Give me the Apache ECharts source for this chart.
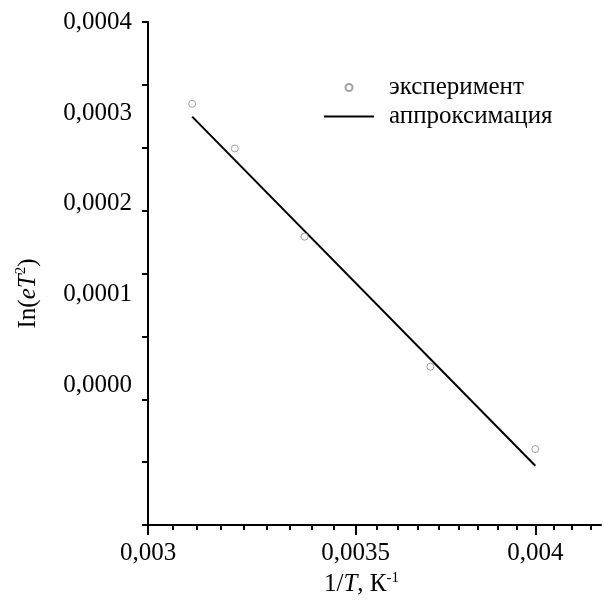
<!DOCTYPE html>
<html>
<head>
<meta charset="utf-8">
<script src="https://cdn.jsdelivr.net/npm/echarts@6/dist/echarts.min.js"></script>
<style>
html,body{margin:0;padding:0;background:#fff;}
#chart{width:604px;height:601px;}
</style>
</head>
<body>
<div id="chart"></div>
<script>
// экспериментальные точки [1/T, значение]
const expPoints = [
  [0.0031, 0.000310],
  [0.0032, 0.000261],
  [0.00337, 0.000164],
  [0.0037, 0.000021],
  [0.004, -0.0000695]
]
// аппроксимация (концы прямой)
const fitLine = [
  [0.0031, 0.000296],
  [0.004, -0.0000878]
]
const xMajorTicks = [0.003, 0.0035, 0.004]
const xMinorTicks = [
  0.003, 0.0030556, 0.0031111, 0.0031667, 0.0032222, 0.0032778, 0.0033333, 0.0033889, 0.0034444, 0.0035,
  0.0035556, 0.0036111, 0.0036667, 0.0037222, 0.0037778, 0.0038333, 0.0038889, 0.0039444, 0.004,
  0.0040556, 0.0041111, 0.0041667
]
const yLabelValues = [0, 0.0001, 0.0002, 0.0003, 0.0004]

const font = 'Liberation Serif'
const txt = { fontFamily: font, fontSize: 25, color: '#000' }

const chart = echarts.init(document.getElementById('chart'))
const option = {
  animation: false,
  backgroundColor: '#fff',
  grid: { left: 148, right: 3, top: 22, bottom: 76, containLabel: false, outerBoundsMode: 'none' },
  legend: {
    orient: 'vertical',
    left: 323,
    top: 75,
    padding: 0,
    itemWidth: 50,
    itemHeight: 7,
    itemGap: 4,
    textStyle: { ...txt, padding: [0, 0, 0, 10] },
    data: [
      'эксперимент',
      { name: 'аппроксимация', itemStyle: { color: 'rgba(0,0,0,0)', borderWidth: 0 } }
    ]
  },
  xAxis: [{
    type: 'log',
    position: 'bottom',
    min: 0.003,
    max: 0.0042,
    name: '{n|1/}{i|T}{n|, К}{s|-1}',
    nameLocation: 'middle',
    nameGap: 40,
    nameTextStyle: {
      ...txt,
      padding: [0, 26, 0, 0],
      rich: {
        n: { ...txt, lineHeight: 28 },
        i: { ...txt, fontStyle: 'italic', lineHeight: 28 },
        s: { fontFamily: font, fontSize: 15, color: '#000', verticalAlign: 'top', lineHeight: 28 }
      }
    },
    axisLine: { onZero: false, lineStyle: { color: '#000', width: 2 } },
    axisTick: { customValues: xMajorTicks, length: 10, lineStyle: { color: '#000', width: 2 } },
    axisLabel: {
      ...txt,
      margin: 16,
      customValues: xMajorTicks,
      formatter: v => String(v).replace('.', ',')
    },
    splitLine: { show: false }
  }, {
    type: 'log',
    position: 'bottom',
    min: 0.003,
    max: 0.0042,
    axisLine: { show: false, onZero: false },
    axisTick: { customValues: xMinorTicks, length: 5, lineStyle: { color: '#000', width: 2 } },
    axisLabel: { show: false },
    splitLine: { show: false }
  }],
  yAxis: [{
    type: 'value',
    position: 'left',
    min: -0.000153,
    max: 0.0004,
    name: '{n|In(}{i|eT}{s|2}{n|)}',
    nameLocation: 'middle',
    nameRotate: 90,
    nameGap: 106,
    nameTextStyle: {
      ...txt,
      padding: [0, 40, 0, 0],
      rich: {
        n: { ...txt, lineHeight: 28 },
        i: { ...txt, fontStyle: 'italic', lineHeight: 28 },
        s: { fontFamily: font, fontSize: 15, color: '#000', verticalAlign: 'top', lineHeight: 28 }
      }
    },
    axisLine: { show: true, onZero: false, lineStyle: { color: '#000', width: 2 } },
    axisTick: { show: false },
    axisLabel: {
      ...txt,
      margin: 16,
      customValues: yLabelValues,
      formatter: v => v.toFixed(4).replace('.', ',')
    },
    splitLine: { show: false }
  }, {
    type: 'value',
    position: 'left',
    min: 0,
    max: 8,
    interval: 1,
    axisLine: { show: false, onZero: false },
    axisTick: { show: true, length: 6, lineStyle: { color: '#000', width: 2 } },
    axisLabel: { show: false },
    splitLine: { show: false }
  }],
  series: [{
    name: 'эксперимент',
    type: 'scatter',
    xAxisIndex: 0,
    yAxisIndex: 0,
    symbol: 'circle',
    symbolSize: 7,
    itemStyle: { color: '#fff', borderColor: '#888', borderWidth: 1 },
    data: expPoints,
    z: 3
  }, {
    name: 'аппроксимация',
    type: 'line',
    xAxisIndex: 0,
    yAxisIndex: 0,
    symbol: 'none',
    itemStyle: { color: '#000' },
    lineStyle: { color: '#000', width: 2 },
    data: fitLine
  }]
}
chart.setOption(option)
</script>
</body>
</html>
